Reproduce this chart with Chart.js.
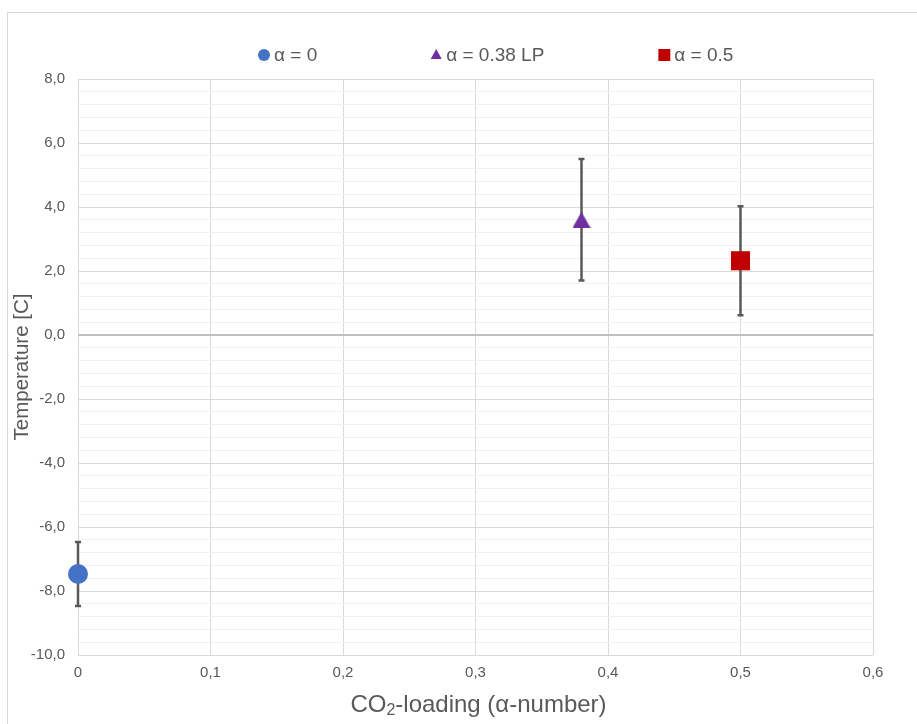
<!DOCTYPE html>
<html>
<head>
<meta charset="utf-8">
<title>CO2-loading vs temperature</title>
<script src="https://cdn.jsdelivr.net/npm/chart.js@4"></script>
<style>
  html, body { margin: 0; padding: 0; background: #fff; overflow: hidden; }
  #frame {
    position: absolute; left: 7px; top: 12px; width: 940px; height: 740px;
    border: 1px solid #d9d9d9; box-sizing: border-box;
  }
  #wrap { position: absolute; left: 0; top: 0; width: 917px; height: 724px; }
</style>
</head>
<body>
<div id="frame"></div>
<div id="wrap"><canvas id="chart"></canvas></div>
<script>
// series: CO2 loading, mean temperature and error bar half-width
const seriesLabels = ['α = 0', 'α = 0.38 LP', 'α = 0.5'];
const loading = [0, 0.38, 0.5];
const temperature = [-7.47, 3.6, 2.32];
const errorBar = [1.0, 1.9, 1.7];
const colors = ['#4472C4', '#7030A0', '#C00000'];
const markerSize = [10, 10, 13.5];

const xTicks = [0, 0.1, 0.2, 0.3, 0.4, 0.5, 0.6];
const yMin = -10, yMax = 8, yMajor = 2, yMinor = 0.4;

const gray = '#595959';
const font = '"Liberation Sans", Arial, sans-serif';

const fmt = v => (Math.abs(v) < 1e-9 ? 0 : v).toFixed(1).replace('.', ',');

// triangle marker centred on its bounding box
function triangleImage(w, h, color) {
  const c = document.createElement('canvas');
  c.width = w; c.height = h;
  const g = c.getContext('2d');
  g.fillStyle = color;
  g.beginPath();
  g.moveTo(w / 2, 0);
  g.lineTo(w, h);
  g.lineTo(0, h);
  g.closePath();
  g.fill();
  return c;
}
const markers = ['circle', triangleImage(18, 16, colors[1]), 'rect'];

const datasets = seriesLabels.map((label, i) => ({
  label,
  data: [{ x: loading[i], y: temperature[i] }],
  pointStyle: markers[i],
  pointRadius: markerSize[i],
  pointHoverRadius: markerSize[i],
  backgroundColor: colors[i],
  borderColor: colors[i],
  borderWidth: 0,
  clip: false
}));

// vertical error bars, drawn under the markers
const errorBars = {
  id: 'errorBars',
  beforeDatasetsDraw(chart) {
    const { ctx, scales: { x, y } } = chart;
    ctx.save();
    ctx.strokeStyle = '#595959';
    ctx.lineWidth = 2.5;
    loading.forEach((lx, i) => {
      const px = x.getPixelForValue(lx);
      const top = y.getPixelForValue(temperature[i] + errorBar[i]);
      const bot = y.getPixelForValue(temperature[i] - errorBar[i]);
      ctx.beginPath();
      ctx.moveTo(px, top); ctx.lineTo(px, bot);
      ctx.moveTo(px - 3, top); ctx.lineTo(px + 3, top);
      ctx.moveTo(px - 3, bot); ctx.lineTo(px + 3, bot);
      ctx.stroke();
    });
    ctx.restore();
  }
};

// legend row and axis titles
const decorations = {
  id: 'decorations',
  afterDraw(chart) {
    const { ctx, chartArea: a } = chart;
    ctx.save();
    ctx.fillStyle = gray;
    ctx.textBaseline = 'middle';

    // legend
    ctx.font = '19px ' + font;
    const legendY = 55;
    const gap = 114;
    let cx = a.left + 180;
    seriesLabels.forEach((label, i) => {
      ctx.fillStyle = colors[i];
      ctx.beginPath();
      if (i === 0) {
        ctx.arc(cx + 6, legendY, 6, 0, Math.PI * 2);
      } else if (i === 1) {
        ctx.moveTo(cx + 5, legendY - 6);
        ctx.lineTo(cx + 10.5, legendY + 4);
        ctx.lineTo(cx - 0.5, legendY + 4);
        ctx.closePath();
      } else {
        ctx.rect(cx, legendY - 6, 12, 12);
      }
      ctx.fill();
      ctx.fillStyle = gray;
      ctx.textAlign = 'left';
      const mw = i === 1 ? 11 : 12;
      ctx.fillText(label, cx + mw + 4, legendY + 1);
      cx += mw + 4 + ctx.measureText(label).width + gap;
    });

    // y title
    ctx.font = '20.5px ' + font;
    ctx.save();
    ctx.translate(22, (a.top + a.bottom) / 2);
    ctx.rotate(-Math.PI / 2);
    ctx.textAlign = 'center';
    ctx.fillText('Temperature [C]', 0, 0);
    ctx.restore();

    // x title with subscript
    const parts = [['CO', 24, 0], ['2', 16, 6], ['-loading (α-number)', 24, 0]];
    let w = 0;
    parts.forEach(p => { ctx.font = p[1] + 'px ' + font; w += ctx.measureText(p[0]).width; });
    let tx = (a.left + a.right) / 2 - w / 2 + 3;
    const ty = 705;
    ctx.textAlign = 'left';
    parts.forEach(p => {
      ctx.font = p[1] + 'px ' + font;
      ctx.fillText(p[0], tx, ty + p[2]);
      tx += ctx.measureText(p[0]).width;
    });
    ctx.restore();
  }
};

new Chart(document.getElementById('chart'), {
  type: 'scatter',
  data: { datasets },
  options: {
    responsive: true,
    maintainAspectRatio: false,
    animation: false,
    layout: { padding: { top: 79, right: 44, bottom: 39, left: 0 } },
    plugins: {
      legend: { display: false },
      tooltip: { enabled: false }
    },
    scales: {
      x: {
        type: 'linear',
        min: 0,
        max: 0.6,
        afterBuildTicks: s => { s.ticks = xTicks.map(v => ({ value: v })); },
        afterFit: s => { s.height = 30; },
        ticks: {
          color: gray,
          font: { size: 15, family: font },
          padding: 9,
          autoSkip: false,
          maxRotation: 0,
          callback: v => (v === 0 ? '0' : v.toFixed(1).replace('.', ','))
        },
        grid: { color: '#d9d9d9', lineWidth: 1, drawTicks: false },
        border: { display: false }
      },
      y: {
        type: 'linear',
        min: yMin,
        max: yMax,
        afterBuildTicks: s => {
          const t = [];
          const n = Math.round((yMax - yMin) / yMinor);
          for (let k = 0; k <= n; k++) t.push({ value: +(yMin + k * yMinor).toFixed(2) });
          s.ticks = t;
        },
        afterFit: s => { s.width = 78; },
        ticks: {
          color: gray,
          font: { size: 15, family: font },
          padding: 13,
          autoSkip: false,
          callback: v => (Math.abs(v / yMajor - Math.round(v / yMajor)) < 1e-6 ? fmt(v) : '')
        },
        grid: {
          drawTicks: false,
          color: c => {
            const v = c.tick.value;
            if (Math.abs(v) < 1e-6) return '#bfbfbf';
            return Math.abs(v / yMajor - Math.round(v / yMajor)) < 1e-6 ? '#d9d9d9' : '#f0f0f0';
          },
          lineWidth: c => (Math.abs(c.tick.value) < 1e-6 ? 2 : 1)
        },
        border: { display: false }
      }
    }
  },
  plugins: [errorBars, decorations]
});
</script>
</body>
</html>
